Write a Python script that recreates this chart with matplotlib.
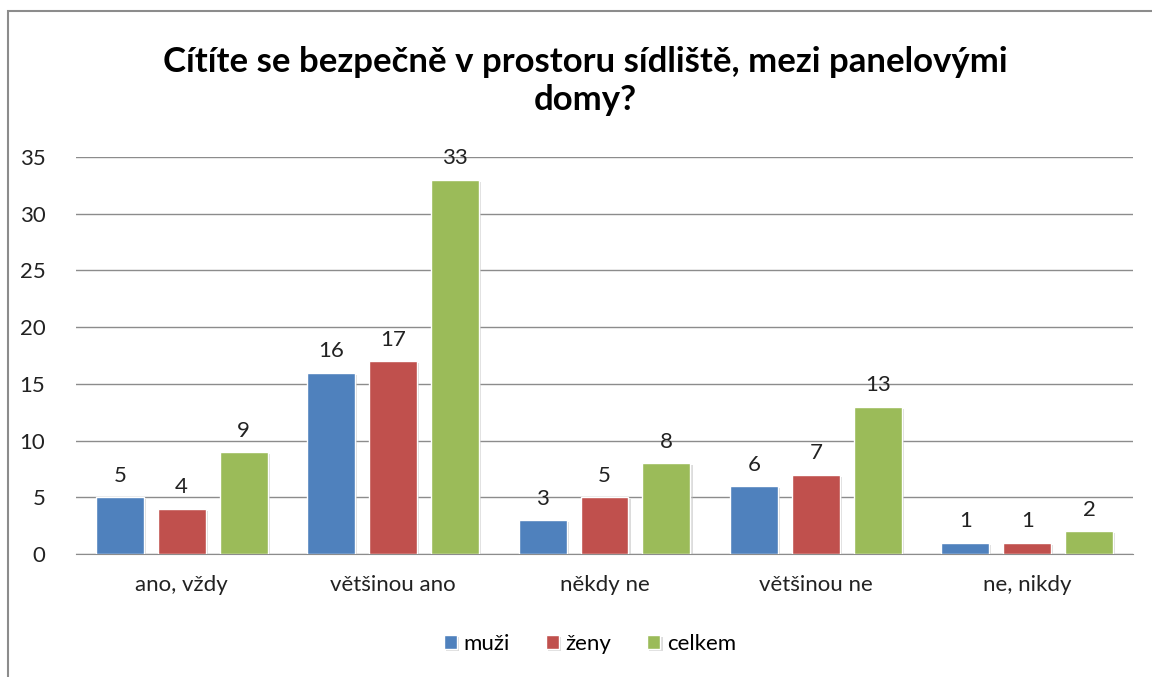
import numpy as np
import matplotlib.pyplot as plt
from matplotlib.patches import Rectangle
import matplotlib.patheffects as pe

# data
categories = ['ano, vždy', 'většinou ano', 'někdy ne', 'většinou ne', 'ne, nikdy']
series_names = ['muži', 'ženy', 'celkem']
muzi = [5, 16, 3, 6, 1]
zeny = [4, 17, 5, 7, 1]
celkem = [9, 33, 8, 13, 2]
colors = ['#4F81BD', '#C0504D', '#9BBB59']

plt.rcParams['font.family'] = ['Lato', 'DejaVu Sans']

fig = plt.figure(figsize=(11.52, 6.77), dpi=100)
ax = fig.add_axes([76 / 1152, 1 - 554 / 677, (1133 - 76) / 1152, (554 - 157) / 677])

x = np.arange(len(categories))
width = 0.227
step = 0.293
shadow = [pe.SimplePatchShadow(offset=(1.5, -1.5), shadow_rgbFace='#bbbbbb', alpha=0.5), pe.Normal()]

for i, (name, vals) in enumerate(zip(series_names, [muzi, zeny, celkem])):
    bars = ax.bar(x + (i - 1) * step, vals, width, color=colors[i], edgecolor='white',
                  linewidth=1, label=name, zorder=3)
    for b in bars:
        b.set_path_effects(shadow)
    for xi, v in zip(x + (i - 1) * step, vals):
        ax.text(xi, v + 1.0, str(v), ha='center', va='bottom', fontsize=16, color='#222222', zorder=4)

ax.set_xlim(-0.5, len(categories) - 0.5)
ax.set_ylim(0, 35)
ax.set_yticks(range(0, 36, 5))
ax.set_xticks(x)
ax.set_xticklabels(categories)
ax.tick_params(axis='both', labelsize=16, length=0, colors='#222222')
ax.tick_params(axis='x', pad=15)
ax.tick_params(axis='y', pad=22)
ax.grid(axis='y', color='#8c8c8c', linewidth=1, zorder=0)
ax.set_axisbelow(True)
for s in ['left', 'right', 'top']:
    ax.spines[s].set_visible(False)
ax.spines['bottom'].set_color('#8c8c8c')

fig.text(585 / 1152, 1 - 81 / 677, 'Cítíte se bezpečně v prostoru sídliště, mezi panelovými\ndomy?',
         ha='center', va='center', fontsize=25, fontweight='bold', linespacing=1.2)

ax.legend(loc='center', bbox_to_anchor=(590 / 1152, 1 - 644 / 677), bbox_transform=fig.transFigure,
          ncol=3, frameon=False, fontsize=16, handlelength=0.6, handleheight=0.6,
          handletextpad=0.3, columnspacing=1.6)

# outer frame
fig.patches.append(Rectangle((8 / 1152, -0.1), 1.2, 1 - 11 / 677 + 0.1, transform=fig.transFigure,
                             fill=False, edgecolor='#8c8c8c', linewidth=1.5))

fig.savefig('out.png', dpi=100)
